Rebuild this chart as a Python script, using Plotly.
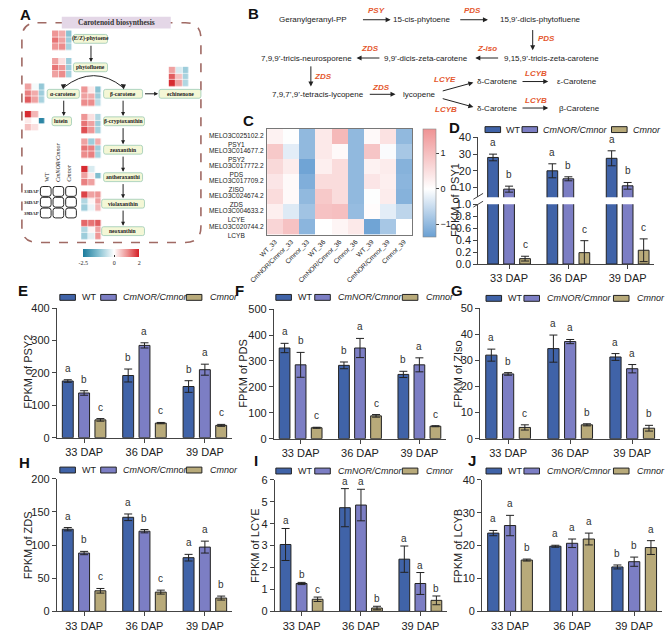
import plotly.graph_objects as go

W, H = 666, 634
SANS = "Liberation Sans, Arial, sans-serif"
SERIF = "Liberation Serif, Times New Roman, serif"
AX = "#444444"

# ---------------- DATA ----------------
dap_labels = ["33 DAP", "36 DAP", "39 DAP"]
genotypes = ["WT", "CmNOR/Cmnor", "Cmnor"]

# rows: WT, CmNOR/Cmnor, Cmnor ; columns: 33, 36, 39 DAP
psy1_mean = [[28.0, 20.0, 27.5], [9.0, 15.2, 11.0], [0.09, 0.19, 0.23]]
psy1_err = [[2.0, 4.2, 4.5], [1.8, 1.2, 2.0], [0.04, 0.20, 0.19]]
psy1_sig = [["a", "a", "a"], ["b", "b", "b"], ["c", "c", "c"]]

psy2_mean = [[175, 192, 158], [138, 285, 210], [55, 45, 38]]
psy2_err = [[4, 20, 18], [7, 8, 17], [4, 2, 3]]
psy2_sig = [["a", "b", "b"], ["b", "a", "a"], ["c", "c", "c"]]

pds_mean = [[350, 283, 248], [285, 350, 285], [42, 88, 48]]
pds_err = [[18, 13, 12], [48, 37, 27], [2, 5, 2]]
pds_sig = [["a", "b", "b"], ["b", "a", "a"], ["c", "c", "c"]]

ziso_mean = [[32.0, 34.5, 31.3], [24.8, 37.2, 26.8], [4.3, 5.3, 4.0]]
ziso_err = [[2.3, 5.2, 1.3], [0.5, 0.8, 1.6], [1.0, 0.4, 1.1]]
ziso_sig = [["a", "a", "a"], ["b", "a", "a"], ["c", "b", "b"]]

zds_mean = [[124, 142, 81], [88, 121, 97], [31, 29, 20]]
zds_err = [[2.5, 5, 5], [2.5, 2.5, 9], [3.5, 3, 3]]
zds_sig = [["a", "a", "a"], ["b", "b", "a"], ["c", "c", "b"]]

lcye_mean = [[3.05, 4.73, 2.38], [1.27, 4.85, 1.27], [0.55, 0.15, 0.50]]
lcye_err = [[0.73, 0.87, 0.60], [0.05, 0.72, 0.50], [0.10, 0.08, 0.20]]
lcye_sig = [["a", "a", "a"], ["b", "a", "a"], ["c", "b", "b"]]

lcyb_mean = [[23.8, 19.8, 13.5], [26.1, 20.7, 15.1], [15.6, 22.0, 19.4]]
lcyb_err = [[0.8, 0.3, 0.6], [3.1, 1.3, 1.4], [0.3, 1.8, 2.1]]
lcyb_sig = [["a", "a", "b"], ["a", "a", "b"], ["b", "a", "a"]]

# C heatmap
heat_genes = ["MELO3C025102.2<br>PSY1", "MELO3C014677.2<br>PSY2", "MELO3C017772.2<br>PDS",
              "MELO3C017709.2<br>ZISO", "MELO3C024674.2<br>ZDS", "MELO3C004633.2<br>LCYE",
              "MELO3C020744.2<br>LCYB"]
heat_samples = ["WT_33", "CmNOR/Cmnor_33", "Cmnor_33", "WT_36", "CmNOR/Cmnor_36", "Cmnor_36",
                "WT_39", "CmNOR/Cmnor_39", "Cmnor_39"]
heat_z = [
    [0.20, -0.02, -1.00, 0.35, 1.10, -1.00, 0.10, 0.45, -1.00],
    [0.85, -0.25, -1.00, 0.35, 0.10, -1.00, 0.90, -0.05, -0.80],
    [0.60, 0.30, -1.30, 0.25, 0.55, -1.00, 0.20, 0.30, -1.10],
    [0.40, 0.10, -1.15, 0.55, 0.55, -1.00, 0.40, 0.25, -1.05],
    [0.55, 0.10, -1.00, 0.85, 0.55, -1.00, -0.02, 0.30, -1.10],
    [0.25, -0.30, -0.85, 0.95, 1.00, -0.95, 0.05, -0.25, -0.60],
    [0.65, 0.95, -1.05, 0.00, 0.15, 0.35, -1.30, -0.80, 0.00],
]

# A small heatmaps (rows 33/36/39 DAP ; cols WT, CmNOR/Cmnor, Cmnor)
phytoene_z = [[1.0, 0.8, -1.2], [1.3, 0.9, -1.0], [1.0, 1.1, -0.9]]
phytofluene_z = [[0.9, 0.3, -1.0], [1.3, 1.0, -1.0], [0.9, 1.1, -0.9]]
echinenone_z = [[0.9, -0.4, -1.0], [1.5, 0.6, -0.9], [1.9, 0.9, -0.8]]
acarotene_z = [[0.9, -0.1, -1.1], [1.2, 0.8, -1.0], [1.5, 0.9, -0.9]]
bcarotene_z = [[1.0, 0.2, -1.2], [0.9, 0.8, -1.0], [1.1, 1.1, -0.7]]
lutein_z = [[1.9, 0.7, None], [0.2, None, -2.3], [0.6, 0.3, None]]
bcrypto_z = [[1.0, 0.3, -0.8], [1.3, 0.9, -1.0], [1.6, 1.0, -0.9]]
zeaxanthin_z = [[0.9, -1.0, 0.8], [1.3, 1.2, -1.0], [1.1, 1.2, -0.9]]
antherax_z = [[1.9, -0.4, None], [0.9, 0.2, -1.3], [1.2, 0.9, None]]
violax_z = [[1.7, 0.9, 1.0], [-0.8, 0.1, 0.9], [-1.0, -0.2, 0.7]]
neox_z = [[1.4, 1.3, 1.5], [-0.8, 0.1, 0.9], [-1.0, -0.3, 1.0]]

BAR_COLORS = ["#4063a8", "#7c7ec4", "#b8aa7a"]

# ---------------- helpers ----------------
def X(p):
    return p / W


def Y(p):
    return 1 - p / H


fig = go.Figure()
shapes = []
ann = []
layout_axes = {}

# pixel-coordinate helper axis (whole figure)
layout_axes["xaxis"] = dict(domain=[0, 1], range=[0, W], visible=False, fixedrange=True)
layout_axes["yaxis"] = dict(domain=[0, 1], range=[H, 0], visible=False, fixedrange=True)


def text(t, x, y, size=8, color="#222", family=SANS, xanchor="center", yanchor="middle",
         angle=0, bold=False, italic=False):
    ann.append(dict(text=t, x=x, y=y, xref="x", yref="y", showarrow=False,
                    xanchor=xanchor, yanchor=yanchor, textangle=angle,
                    font=dict(size=size, color=color, family=family,
                              weight="bold" if bold else "normal",
                              style="italic" if italic else "normal")))


def arrow(x0, y0, x1, y1, size=0.9, color="#222"):
    ann.append(dict(text="", x=x1, y=y1, ax=x0, ay=y0, xref="x", yref="y", axref="x", ayref="y",
                    showarrow=True, arrowhead=2, arrowsize=size, arrowwidth=1,
                    arrowcolor=color, standoff=0))


def rpath(x0, y0, x1, y1, r):
    return (f"M {x0+r},{y0} L {x1-r},{y0} Q {x1},{y0} {x1},{y0+r} L {x1},{y1-r} "
            f"Q {x1},{y1} {x1-r},{y1} L {x0+r},{y1} Q {x0},{y1} {x0},{y1-r} "
            f"L {x0},{y0+r} Q {x0},{y0} {x0+r},{y0} Z")


# ---------------- Panel A ----------------
A_SCALE = [[0, "#1b7b9c"], [0.28, "#86c1d2"], [0.5556, "#ffffff"], [0.8, "#ec8c8c"], [1, "#d41f26"]]
shapes.append(dict(type="path", path=rpath(4, 17, 188, 241, 16), xref="x", yref="y",
                   line=dict(color="#a06a64", width=1.6, dash="dash"), fillcolor="rgba(0,0,0,0)"))
shapes.append(dict(type="rect", x0=45, y0=11, x1=157, y1=23, xref="x", yref="y",
                   fillcolor="#e4d7e7", line=dict(width=0)))
text("Carotenoid biosynthesis", 101, 17, size=7.5, family=SERIF, bold=True, color="#333")

a_grids = [(phytoene_z, 35, 25), (phytofluene_z, 35, 53), (echinenone_z, 155, 62),
           (acarotene_z, 7, 79), (bcarotene_z, 65, 82), (lutein_z, 7, 107),
           (bcrypto_z, 65, 110), (zeaxanthin_z, 65, 135), (antherax_z, 65, 163),
           (violax_z, 65, 189), (neox_z, 65, 218)]
for i, (z, gx, gy) in enumerate(a_grids):
    kw = {}
    if i == 0:
        kw = dict(showscale=True, colorbar=dict(
            orientation="h", x=X(67), xanchor="left", y=Y(248), yanchor="top",
            len=56, lenmode="pixels", thickness=8, thicknessmode="pixels", xpad=0, ypad=0,
            outlinewidth=0, tickvals=[-2.5, 0, 2], ticktext=["-2.5", "0", "2"],
            ticks="inside", ticklen=2, tickcolor="#333",
            tickfont=dict(size=6, family=SERIF, color="#222")))
    else:
        kw = dict(showscale=False)
    fig.add_trace(go.Heatmap(z=z, x0=gx + 3.5, dx=7, y0=gy + 3.35, dy=6.7, xaxis="x", yaxis="y",
                             colorscale=A_SCALE, zmin=-2.5, zmax=2, xgap=0.6, ygap=0.6,
                             hoverinfo="skip", **kw))

node_fill, node_line = "#f4f7d6", "#9ccab4"
a_nodes = [("(E/Z)-phytoene", 57, 29, 92, 38), ("phytofluene", 57, 58, 92, 67),
           ("α-carotene", 30, 85, 63, 94), ("β-carotene", 88, 85, 128, 94),
           ("echinenone", 145, 85, 188, 94), ("lutein", 35, 113, 55, 122),
           ("β-cryptoxanthin", 88, 113, 130, 122), ("zeaxanthin", 88, 142, 128, 151),
           ("antheraxanthi", 88, 170, 128, 179), ("violaxanthin", 86, 197, 130, 206),
           ("neoxanthin", 86, 225, 130, 234)]
for lab, x0, y0, x1, y1 in a_nodes:
    shapes.append(dict(type="path", path=rpath(x0, y0, x1, y1, 2), xref="x", yref="y",
                       fillcolor=node_fill, line=dict(color=node_line, width=0.8)))
    text(lab, (x0 + x1) / 2, (y0 + y1) / 2, size=5.6, family=SERIF, bold=True, color="#222")

arrow(75, 39, 75, 57, size=0.8)
arrow(47, 95, 47, 112, size=0.8)
arrow(108, 95, 108, 112, size=0.8)
arrow(108, 123, 108, 141, size=0.8)
arrow(108, 152, 108, 169, size=0.8)
arrow(108, 180, 108, 196, size=0.8)
arrow(108, 207, 108, 224, size=0.8)
arrow(129, 89.5, 144, 89.5, size=0.8)
shapes.append(dict(type="path", path="M 47,83 Q 78,59 108,83", xref="x", yref="y",
                   line=dict(color="#222", width=1)))
shapes.append(dict(type="path", path="M 44,80 L 49.5,79.5 L 46.5,85 Z", xref="x", yref="y",
                   fillcolor="#222", line=dict(width=0)))
shapes.append(dict(type="path", path="M 105.5,79.5 L 111,80 L 108.5,85 Z", xref="x", yref="y",
                   fillcolor="#222", line=dict(width=0)))

# legend grid in A
text("WT", 29, 181, size=6, family=SERIF, angle=-90, yanchor="bottom")
text("CmNOR/Cmnor", 41, 181, size=6, family=SERIF, angle=-90, yanchor="bottom", italic=True)
text("Cmnor", 53, 181, size=6, family=SERIF, angle=-90, yanchor="bottom", italic=True)
for r, lab in enumerate(["33DAP", "36DAP", "39DAP"]):
    text(lab, 14, 189 + 11 * r, size=4.8, family=SERIF, bold=True)
    for c in range(3):
        x0 = 23 + 13 * c
        y0 = 184 + 11 * r
        shapes.append(dict(type="path", path=rpath(x0, y0, x0 + 11, y0 + 10, 2.5), xref="x", yref="y",
                           fillcolor="white", line=dict(color="#111", width=0.9)))

# ---------------- Panel B ----------------
b_nodes = [("Geranylgeranyl-PP", 303, 14), ("15-cis-phytoene", 415, 14),
           ("15,9’-dicis-phytofluene", 537, 14), ("9,15,9’-tricis-zeta-carotene", 548, 53),
           ("9,9’-dicis-zeta-carotene", 419, 53), ("7,9,9’-tricis-neurosporene", 297, 53),
           ("7,9,7’,9’-tetracis-lycopene", 308, 90), ("lycopene", 413, 90),
           ("δ-Carotene", 493, 77), ("ε-Carotene", 575, 77),
           ("δ-Carotene", 493, 104), ("β-Carotene", 577, 104)]
for t, x, y in b_nodes:
    text(t, x, y, size=8, color="#1a1a1a")
b_arrows = [(353, 14, 383, 14), (453, 14, 483, 14), (529, 23, 529, 45), (495, 53, 470, 53),
            (373, 53, 348, 53), (301, 60, 301, 82), (360, 90, 388, 90), (435, 87, 468, 78),
            (435, 94, 468, 103), (517, 77, 545, 77), (517, 104, 545, 104)]
for a in b_arrows:
    arrow(*a, size=1.0)
b_enz = [("PSY", 368, 5), ("PDS", 467, 5), ("PDS", 543, 33), ("Z-iso", 482, 43), ("ZDS", 362, 43),
         ("ZDS", 313, 72), ("ZDS", 373, 83), ("LCYE", 439, 75), ("LCYB", 440, 106),
         ("LCYB", 532, 69), ("LCYB", 532, 96)]
for t, x, y in b_enz:
    text(t, x, y, size=8, color="#e4572e", bold=True, italic=True)

# ---------------- Panel C ----------------
C_SCALE = [[0, "#6aa0d3"], [0.444, "#ffffff"], [1, "#ef9394"]]
fig.add_trace(go.Heatmap(z=heat_z, x=list(range(len(heat_samples))), y=list(range(len(heat_genes))),
                         xaxis="x2", yaxis="y2", colorscale=C_SCALE, zmin=-1.35, zmax=1.69,
                         hoverinfo="skip",
                         colorbar=dict(x=X(416), xanchor="left", y=Y(125), yanchor="top",
                                       len=108, lenmode="pixels", thickness=13, thicknessmode="pixels",
                                       xpad=0, ypad=0, outlinewidth=0.6, outlinecolor="#888",
                                       tickvals=[-1, 0, 1], ticks="outside", ticklen=3,
                                       tickcolor="#444", tickfont=dict(size=9, color="#222"))))
layout_axes["xaxis2"] = dict(domain=[X(256), X(405)], range=[-0.5, 8.5], anchor="y2",
                             tickvals=list(range(9)), ticktext=heat_samples, tickangle=-45,
                             tickfont=dict(size=6.6, color="#222"), ticks="", showgrid=False,
                             zeroline=False, showline=True, mirror=True, linecolor="#777",
                             linewidth=0.8, fixedrange=True)
layout_axes["yaxis2"] = dict(domain=[Y(233), Y(125)], range=[6.5, -0.5], anchor="x2",
                             showticklabels=False, ticks="", showgrid=False, zeroline=False,
                             showline=True, mirror=True, linecolor="#777", linewidth=0.8,
                             fixedrange=True)
for i, g in enumerate(heat_genes):
    ann.append(dict(text=g, x=X(224.5), xref="paper", y=i, yref="y2", yshift=-3.5,
                    showarrow=False, align="center", xanchor="center", yanchor="middle",
                    font=dict(size=6.6, color="#222", family=SANS)))


# ---------------- bar panels ----------------
OFFS = [-0.27, 0.0, 0.27]


def x_axis(n, x0, x1, xr=(-0.45, 2.45), visible=True):
    layout_axes[f"xaxis{n}"] = dict(domain=[X(x0), X(x1)], range=list(xr), anchor=f"y{n}",
                                    tickvals=[0, 1, 2], ticktext=dap_labels, visible=visible,
                                    showline=True, linecolor=AX, linewidth=1, ticks="outside",
                                    ticklen=4, tickcolor=AX, tickfont=dict(size=11, color="#222"),
                                    showgrid=False, zeroline=False, fixedrange=True)


def y_axis(n, y0, y1, yr, tickvals, ticktext=None):
    d = dict(domain=[Y(y1), Y(y0)], range=list(yr), anchor=f"x{n}", tickvals=tickvals,
             showline=True, linecolor=AX, linewidth=1, ticks="outside", ticklen=4, tickcolor=AX,
             tickfont=dict(size=11, color="#222"), showgrid=False, zeroline=False, fixedrange=True)
    if ticktext is not None:
        d["ticktext"] = ticktext
    layout_axes[f"yaxis{n}"] = d


def bars(n, means, errs, sigs, err_on=(True, True, True), sig_on=(True, True, True), shift=4):
    for k in range(3):
        fig.add_trace(go.Bar(x=[0, 1, 2], y=means[k], name=genotypes[k], xaxis=f"x{n}", yaxis=f"y{n}",
                             marker=dict(color=BAR_COLORS[k], line=dict(color="#222", width=1)),
                             error_y=dict(type="data", array=errs[k], visible=err_on[k],
                                          color="#222", thickness=1, width=4),
                             showlegend=False, hoverinfo="skip"))
        if sig_on[k]:
            for i in range(3):
                ann.append(dict(text=sigs[k][i], x=i + OFFS[k], y=means[k][i] + errs[k][i],
                                xref=f"x{n}", yref=f"y{n}", yanchor="bottom", yshift=shift,
                                showarrow=False, font=dict(size=10, color="#333", family=SANS)))


def legend(y, pos):
    wt_sw, wt_tx, cm_sw, cm_tx, mu_sw, mu_tx = pos
    for k, (sw, tx) in enumerate([(wt_sw, wt_tx), (cm_sw, cm_tx), (mu_sw, mu_tx)]):
        shapes.append(dict(type="rect", x0=sw, x1=sw + 16, y0=y - 3, y1=y + 3, xref="x", yref="y",
                           fillcolor=BAR_COLORS[k], line=dict(color="#222", width=1)))
        text(genotypes[k], tx, y, size=9, xanchor="left", italic=(k > 0), color="#222")


def ytitle(t, x, y):
    text(t, x, y, size=11, angle=-90, color="#222")


def plabel(t, x, y):
    text(t, x, y, size=15, bold=True, color="#111")


# D (broken axis)
x_axis(3, 473, 654, xr=(-0.52, 2.45))
y_axis(3, 202, 263, (0, 1.0), [0, 0.2, 0.4, 0.6, 0.8, 1.0], ["0.0", "0.2", "0.4", "0.6", "0.8", "1.0"])
bars(3, psy1_mean, psy1_err, psy1_sig, err_on=(False, False, True), sig_on=(False, False, True))
x_axis(4, 473, 654, xr=(-0.52, 2.45), visible=False)
y_axis(4, 134, 195, (4.1, 40), [10, 20, 30, 40])
bars(4, psy1_mean, psy1_err, psy1_sig, err_on=(True, True, False), sig_on=(True, True, False))
shapes.append(dict(type="line", x0=468, y0=197, x1=478, y1=191, xref="x", yref="y",
                   line=dict(color=AX, width=1)))
shapes.append(dict(type="line", x0=468, y0=205, x1=478, y1=199, xref="x", yref="y",
                   line=dict(color=AX, width=1)))
legend(126, (480, 500, 518, 538, 610, 630))
ytitle("FPKM of PSY1", 449, 198)
plabel("D", 449, 124)

# E
x_axis(5, 40, 220); y_axis(5, 308, 440, (0, 400), [0, 100, 200, 300, 400])
bars(5, psy2_mean, psy2_err, psy2_sig)
legend(297, (43, 64, 85, 106, 173, 195)); ytitle("FPKM of PSY2", 10, 373); plabel("E", 5, 290)
# F
x_axis(6, 263, 440); y_axis(6, 309, 441, (0, 500), [0, 100, 200, 300, 400, 500])
bars(6, pds_mean, pds_err, pds_sig)
legend(297, (265, 286, 305, 327, 395, 417)); ytitle("FPKM of PDS", 231, 375); plabel("F", 228, 290)
# G
x_axis(7, 475, 660); y_axis(7, 308, 441, (0, 50), [0, 10, 20, 30, 40, 50])
bars(7, ziso_mean, ziso_err, ziso_sig)
legend(298, (481, 502, 520, 542, 612, 634)); ytitle("FPKM of ZIso", 452, 375); plabel("G", 451, 290)
# H
x_axis(8, 40, 220); y_axis(8, 482, 617, (0, 200), [0, 50, 100, 150, 200])
bars(8, zds_mean, zds_err, zds_sig)
legend(473, (43, 64, 85, 106, 173, 195)); ytitle("FPKM of ZDS", 10, 550); plabel("H", 7, 465)
# I
x_axis(9, 264, 441); y_axis(9, 483, 617, (0, 6), [0, 1, 2, 3, 4, 5, 6])
bars(9, lcye_mean, lcye_err, lcye_sig, shift=0)
legend(474, (265, 286, 305, 327, 395, 417)); ytitle("FPKM of LCYE", 243, 550); plabel("I", 245, 463)
# J
x_axis(10, 477, 662); y_axis(10, 483, 617, (0, 40), [0, 10, 20, 30, 40])
bars(10, lcyb_mean, lcyb_err, lcyb_sig)
legend(474, (481, 502, 520, 542, 612, 634)); ytitle("FPKM of LCYB", 452, 550); plabel("J", 467, 463)

plabel("A", 8, 9)
plabel("B", 242, 8)
plabel("C", 237, 117)

fig.update_layout(width=W, height=H, margin=dict(l=0, r=0, t=0, b=0), autosize=False,
                  paper_bgcolor="white", plot_bgcolor="rgba(0,0,0,0)",
                  font=dict(family=SANS, color="#222"), barmode="group",
                  bargap=0.19, bargroupgap=0.33, showlegend=False,
                  shapes=shapes, annotations=ann, **layout_axes)
fig.write_html("out.html")
